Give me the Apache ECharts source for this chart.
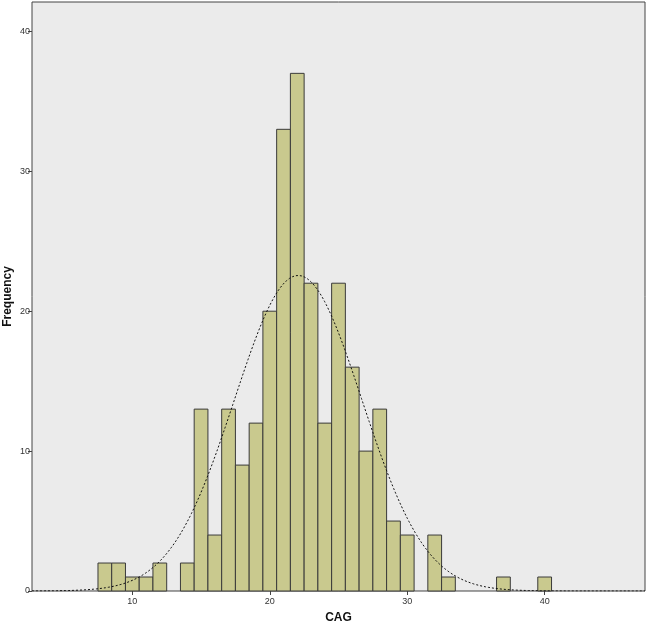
<!DOCTYPE html>
<html>
<head>
<meta charset="utf-8">
<script src="https://cdn.jsdelivr.net/npm/echarts@6/dist/echarts.min.js"></script>
<style>html,body{margin:0;padding:0;background:#fff}#c{width:647px;height:623px}</style>
</head>
<body>
<div id="c"></div>
<script>
// Histogram bins (bin centers, width 1) and frequencies
var binCenters = [8, 9, 10, 11, 12, 13, 14, 15, 16, 17, 18, 19, 20, 21, 22, 23, 24, 25, 26, 27, 28, 29, 30, 31, 32, 33, 34, 35, 36, 37, 38, 39, 40];
var frequencies = [2, 2, 1, 1, 2, 0, 2, 13, 4, 13, 9, 12, 20, 33, 37, 22, 12, 22, 16, 10, 13, 5, 4, 0, 4, 1, 0, 0, 0, 1, 0, 0, 1];
var binWidth = 1;
var xTicks = [10, 20, 30, 40];
var yTicks = [0, 10, 20, 30, 40];
var xRange = [2.7, 47.3];
var yRange = [0, 42.1];

// Fitted normal curve from the histogram's own mean and SD
var n = 0, s = 0;
for (var i = 0; i < binCenters.length; i++) { n += frequencies[i]; s += binCenters[i] * frequencies[i]; }
var mean = s / n;
var ss = 0;
for (var i = 0; i < binCenters.length; i++) { ss += frequencies[i] * Math.pow(binCenters[i] - mean, 2); }
var sd = Math.sqrt(ss / (n - 1));
var curve = [];
for (var k = 0; k <= 400; k++) {
  var x = xRange[0] + (xRange[1] - xRange[0]) * k / 400;
  var y = n * binWidth / (sd * Math.sqrt(2 * Math.PI)) * Math.exp(-0.5 * Math.pow((x - mean) / sd, 2));
  curve.push([x, y]);
}

var barData = [];
for (var i = 0; i < binCenters.length; i++) {
  if (frequencies[i] > 0) barData.push([binCenters[i], frequencies[i]]);
}

var chart = echarts.init(document.getElementById('c'), null, {renderer: 'canvas'});
chart.setOption({
  animation: false,
  grid: {left: 32, right: 2, top: 2, bottom: 32, containLabel: false, outerBoundsMode: 'none',
         show: true, backgroundColor: '#EBEBEB', borderColor: '#444', borderWidth: 1},
  xAxis: {
    type: 'value', min: xRange[0], max: xRange[1],
    name: 'CAG', nameLocation: 'middle', nameGap: 21, nameMoveOverlap: false,
    nameTextStyle: {fontFamily: 'Liberation Sans', fontWeight: 'bold', fontSize: 12, color: '#111'},
    axisLine: {show: false},
    axisTick: {show: true, length: 4, lineStyle: {color: '#444'}, customValues: xTicks},
    axisLabel: {fontFamily: 'Liberation Sans', fontSize: 9, color: '#333', margin: 6, customValues: xTicks},
    splitLine: {show: false}
  },
  yAxis: {
    type: 'value', min: yRange[0], max: yRange[1],
    name: 'Frequency', nameLocation: 'middle', nameGap: 18, nameRotate: 90, nameMoveOverlap: false,
    nameTextStyle: {fontFamily: 'Liberation Sans', fontWeight: 'bold', fontSize: 12, color: '#111'},
    axisLine: {show: false},
    axisTick: {show: true, length: 4, lineStyle: {color: '#444'}, customValues: yTicks},
    axisLabel: {fontFamily: 'Liberation Sans', fontSize: 9, color: '#333', margin: 2, customValues: yTicks},
    splitLine: {show: false}
  },
  series: [
    {
      type: 'custom',
      data: barData,
      renderItem: function (params, api) {
        var c = api.value(0), v = api.value(1);
        var p0 = api.coord([c - binWidth / 2, v]);
        var p1 = api.coord([c + binWidth / 2, 0]);
        return {
          type: 'rect',
          shape: {x: p0[0], y: p0[1], width: p1[0] - p0[0], height: p1[1] - p0[1]},
          style: {fill: '#C9C98E', stroke: '#3a3a3a', lineWidth: 1}
        };
      },
      z: 2
    },
    {
      type: 'line', data: curve, showSymbol: false, smooth: false,
      lineStyle: {color: '#111', width: 1, type: [2, 2]},
      z: 3
    }
  ]
});
</script>
</body>
</html>
